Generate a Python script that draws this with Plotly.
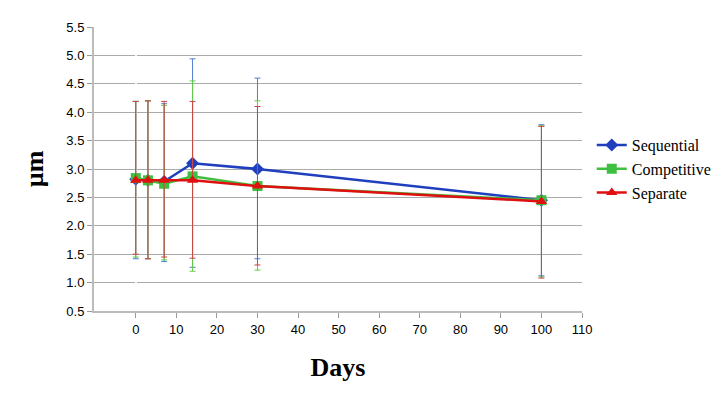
import plotly.graph_objects as go

days = [0, 3, 7, 14, 30, 100]

seq_mean = [2.82, 2.80, 2.78, 3.10, 3.00, 2.45]
seq_hi = [4.19, 4.20, 4.15, 4.94, 4.60, 3.78]
seq_lo = [1.42, 1.42, 1.37, 1.27, 1.42, 1.12]

comp_mean = [2.84, 2.80, 2.74, 2.87, 2.70, 2.45]
comp_hi = [4.19, 4.20, 4.12, 4.55, 4.20, 3.76]
comp_lo = [1.45, 1.42, 1.40, 1.20, 1.22, 1.10]

sep_mean = [2.80, 2.80, 2.80, 2.80, 2.70, 2.43]
sep_hi = [4.19, 4.20, 4.19, 4.19, 4.10, 3.75]
sep_lo = [1.50, 1.42, 1.45, 1.43, 1.31, 1.08]

x_ticks = [0, 10, 20, 30, 40, 50, 60, 70, 80, 90, 100, 110]

series = [
    ("Sequential", seq_mean, seq_hi, seq_lo, "#1f3fbf", "diamond", "#4f7fd0"),
    ("Competitive", comp_mean, comp_hi, comp_lo, "#3fbf3f", "square", "#66cc44"),
    ("Separate", sep_mean, sep_hi, sep_lo, "#e01010", "triangle-up", "#d04040"),
]

fig = go.Figure()
for name, mean, hi, lo, color, symbol, ecolor in series:
    fig.add_trace(go.Scatter(
        x=days, y=mean, name=name, mode="lines+markers",
        line=dict(color=color, width=2.5),
        marker=dict(symbol=symbol, size=10, color=color),
        error_y=dict(type="data", symmetric=False,
                     array=[h - m for h, m in zip(hi, mean)],
                     arrayminus=[m - l for m, l in zip(mean, lo)],
                     color=ecolor, thickness=1, width=3),
    ))

fig.update_layout(
    width=728, height=416, paper_bgcolor="white", plot_bgcolor="white",
    margin=dict(l=86, r=154, t=13, b=113),
    font=dict(family="Liberation Sans", size=13, color="black"),
    legend=dict(x=1.02, y=0.5, yanchor="middle",
                font=dict(family="Liberation Serif", size=16)),
    xaxis=dict(range=[-10.3, 110], tickvals=x_ticks,
               showgrid=False, showline=True, linecolor="#bbbbbb", linewidth=2,
               ticks="outside", tickcolor="#999999", ticklen=5,
               title=dict(text="<b>Days</b>", standoff=22,
                          font=dict(family="Liberation Serif", size=26))),
    yaxis=dict(range=[0.5, 5.5], dtick=0.5, tickformat=".1f",
               showgrid=True, gridcolor="#aaaaaa", gridwidth=1,
               showline=True, linecolor="#bbbbbb", linewidth=2,
               ticks="outside", tickcolor="#999999", ticklen=5, zeroline=False,
               title=dict(text="<b>µm</b>", font=dict(family="Liberation Serif", size=26))),
)

fig.write_html("out.html")
